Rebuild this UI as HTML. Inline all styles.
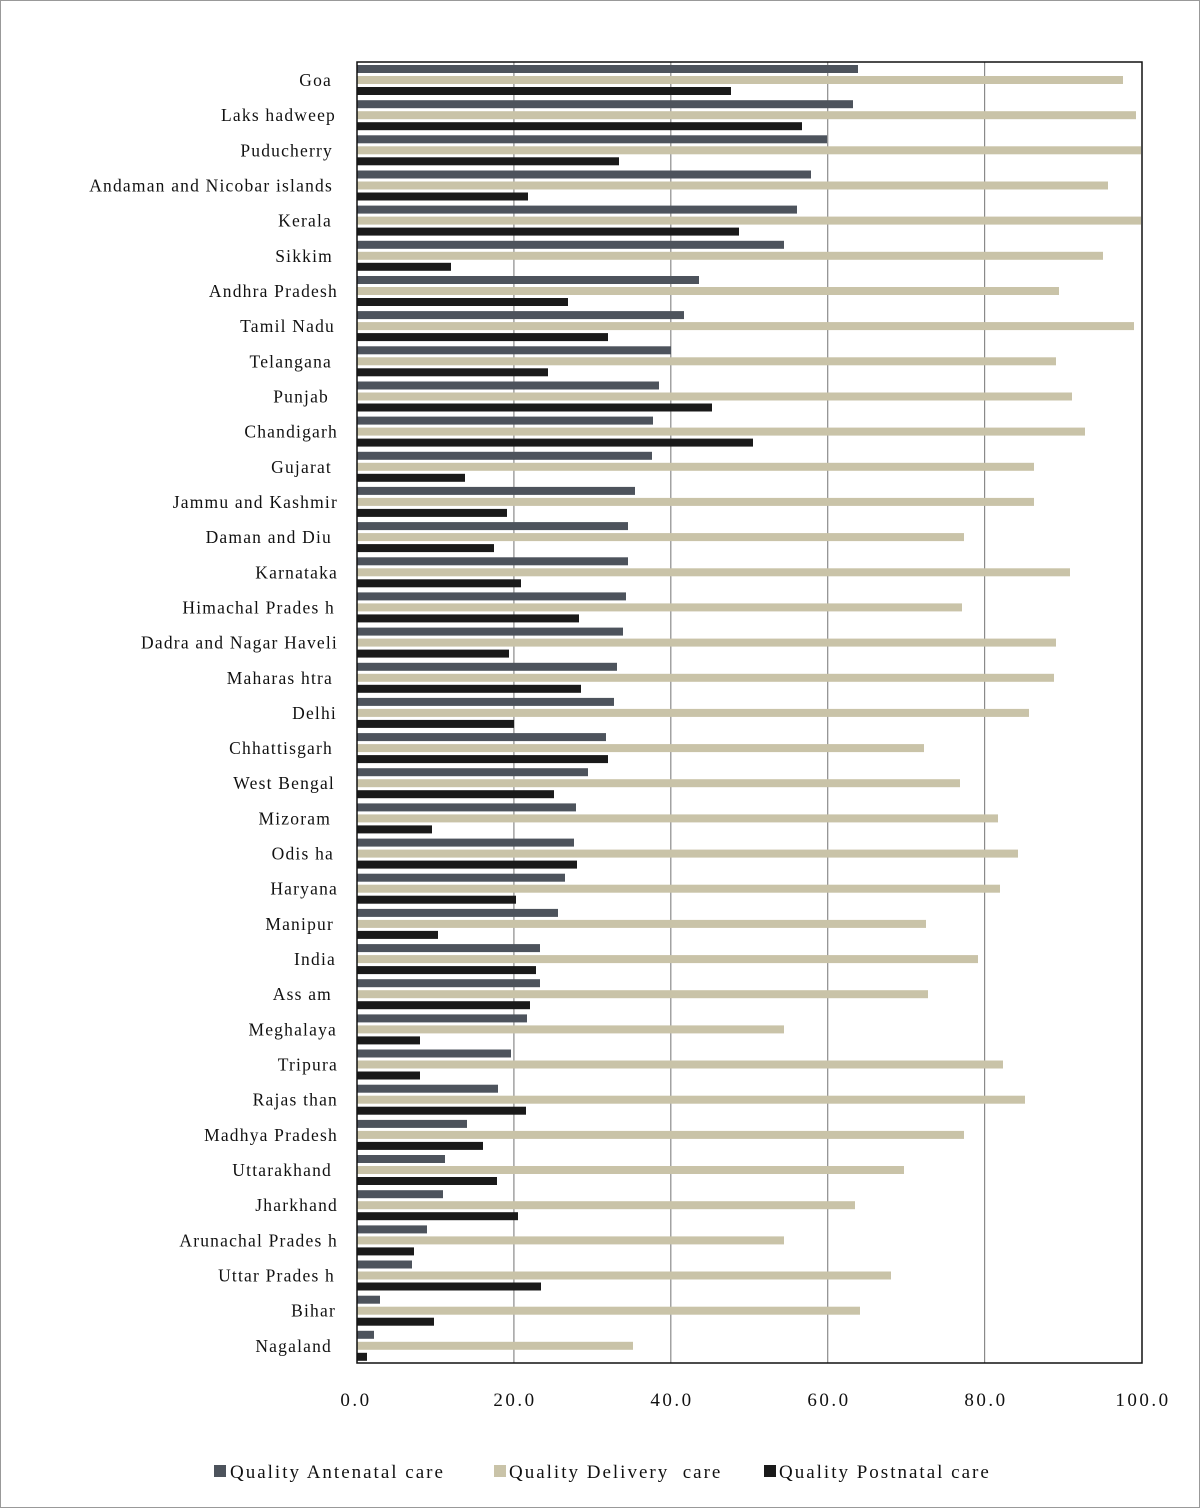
<!DOCTYPE html>
<html><head><meta charset="utf-8"><style>
body{margin:0;background:#fff}
svg{display:block;font-family:"Liberation Serif",serif}
.a{fill:#4d535c}.b{fill:#c9c3a8}.c{fill:#1a1a1a}
.l{font-size:17.5px;fill:#111;text-anchor:end;letter-spacing:1.2px}
</style></head><body>
<svg width="1200" height="1508" xmlns="http://www.w3.org/2000/svg">
<rect x="0.5" y="0.5" width="1199" height="1507" fill="#fff" stroke="#999"/>
<g stroke="#8a8a8a" stroke-width="1.2">
<line x1="513.9" y1="62" x2="513.9" y2="1363"/>
<line x1="670.8" y1="62" x2="670.8" y2="1363"/>
<line x1="827.7" y1="62" x2="827.7" y2="1363"/>
<line x1="984.6" y1="62" x2="984.6" y2="1363"/>
</g>
<g transform="translate(0,62)"><rect class="a" x="357" y="3" width="501" height="8"/><rect class="b" x="357" y="14" width="766" height="8"/><rect class="c" x="357" y="25" width="374" height="8"/><text class="l" x="332" y="24">Goa</text></g>
<g transform="translate(0,97.2)"><rect class="a" x="357" y="3" width="496" height="8"/><rect class="b" x="357" y="14" width="779" height="8"/><rect class="c" x="357" y="25" width="445" height="8"/><text class="l" x="336" y="24">Laks hadweep</text></g>
<g transform="translate(0,132.3)"><rect class="a" x="357" y="3" width="470" height="8"/><rect class="b" x="357" y="14" width="784" height="8"/><rect class="c" x="357" y="25" width="262" height="8"/><text class="l" x="333" y="24">Puducherry</text></g>
<g transform="translate(0,167.5)"><rect class="a" x="357" y="3" width="454" height="8"/><rect class="b" x="357" y="14" width="751" height="8"/><rect class="c" x="357" y="25" width="171" height="8"/><text class="l" x="333" y="24">Andaman and Nicobar islands</text></g>
<g transform="translate(0,202.6)"><rect class="a" x="357" y="3" width="440" height="8"/><rect class="b" x="357" y="14" width="784" height="8"/><rect class="c" x="357" y="25" width="382" height="8"/><text class="l" x="332" y="24">Kerala</text></g>
<g transform="translate(0,237.8)"><rect class="a" x="357" y="3" width="427" height="8"/><rect class="b" x="357" y="14" width="746" height="8"/><rect class="c" x="357" y="25" width="94" height="8"/><text class="l" x="333" y="24">Sikkim</text></g>
<g transform="translate(0,273)"><rect class="a" x="357" y="3" width="342" height="8"/><rect class="b" x="357" y="14" width="702" height="8"/><rect class="c" x="357" y="25" width="211" height="8"/><text class="l" x="338" y="24">Andhra Pradesh</text></g>
<g transform="translate(0,308.1)"><rect class="a" x="357" y="3" width="327" height="8"/><rect class="b" x="357" y="14" width="777" height="8"/><rect class="c" x="357" y="25" width="251" height="8"/><text class="l" x="335" y="24">Tamil Nadu</text></g>
<g transform="translate(0,343.3)"><rect class="a" x="357" y="3" width="314" height="8"/><rect class="b" x="357" y="14" width="699" height="8"/><rect class="c" x="357" y="25" width="191" height="8"/><text class="l" x="332" y="24">Telangana</text></g>
<g transform="translate(0,378.5)"><rect class="a" x="357" y="3" width="302" height="8"/><rect class="b" x="357" y="14" width="715" height="8"/><rect class="c" x="357" y="25" width="355" height="8"/><text class="l" x="329" y="24">Punjab</text></g>
<g transform="translate(0,413.6)"><rect class="a" x="357" y="3" width="296" height="8"/><rect class="b" x="357" y="14" width="728" height="8"/><rect class="c" x="357" y="25" width="396" height="8"/><text class="l" x="338" y="24">Chandigarh</text></g>
<g transform="translate(0,448.8)"><rect class="a" x="357" y="3" width="295" height="8"/><rect class="b" x="357" y="14" width="677" height="8"/><rect class="c" x="357" y="25" width="108" height="8"/><text class="l" x="332" y="24">Gujarat</text></g>
<g transform="translate(0,483.9)"><rect class="a" x="357" y="3" width="278" height="8"/><rect class="b" x="357" y="14" width="677" height="8"/><rect class="c" x="357" y="25" width="150" height="8"/><text class="l" x="338" y="24">Jammu and Kashmir</text></g>
<g transform="translate(0,519.1)"><rect class="a" x="357" y="3" width="271" height="8"/><rect class="b" x="357" y="14" width="607" height="8"/><rect class="c" x="357" y="25" width="137" height="8"/><text class="l" x="332" y="24">Daman and Diu</text></g>
<g transform="translate(0,554.3)"><rect class="a" x="357" y="3" width="271" height="8"/><rect class="b" x="357" y="14" width="713" height="8"/><rect class="c" x="357" y="25" width="164" height="8"/><text class="l" x="338" y="24">Karnataka</text></g>
<g transform="translate(0,589.4)"><rect class="a" x="357" y="3" width="269" height="8"/><rect class="b" x="357" y="14" width="605" height="8"/><rect class="c" x="357" y="25" width="222" height="8"/><text class="l" x="335" y="24">Himachal Prades h</text></g>
<g transform="translate(0,624.6)"><rect class="a" x="357" y="3" width="266" height="8"/><rect class="b" x="357" y="14" width="699" height="8"/><rect class="c" x="357" y="25" width="152" height="8"/><text class="l" x="338" y="24">Dadra and Nagar Haveli</text></g>
<g transform="translate(0,659.8)"><rect class="a" x="357" y="3" width="260" height="8"/><rect class="b" x="357" y="14" width="697" height="8"/><rect class="c" x="357" y="25" width="224" height="8"/><text class="l" x="333" y="24">Maharas htra</text></g>
<g transform="translate(0,694.9)"><rect class="a" x="357" y="3" width="257" height="8"/><rect class="b" x="357" y="14" width="672" height="8"/><rect class="c" x="357" y="25" width="157" height="8"/><text class="l" x="337" y="24">Delhi</text></g>
<g transform="translate(0,730.1)"><rect class="a" x="357" y="3" width="249" height="8"/><rect class="b" x="357" y="14" width="567" height="8"/><rect class="c" x="357" y="25" width="251" height="8"/><text class="l" x="333" y="24">Chhattisgarh</text></g>
<g transform="translate(0,765.2)"><rect class="a" x="357" y="3" width="231" height="8"/><rect class="b" x="357" y="14" width="603" height="8"/><rect class="c" x="357" y="25" width="197" height="8"/><text class="l" x="335" y="24">West Bengal</text></g>
<g transform="translate(0,800.4)"><rect class="a" x="357" y="3" width="219" height="8"/><rect class="b" x="357" y="14" width="641" height="8"/><rect class="c" x="357" y="25" width="75" height="8"/><text class="l" x="331" y="24">Mizoram</text></g>
<g transform="translate(0,835.6)"><rect class="a" x="357" y="3" width="217" height="8"/><rect class="b" x="357" y="14" width="661" height="8"/><rect class="c" x="357" y="25" width="220" height="8"/><text class="l" x="334" y="24">Odis ha</text></g>
<g transform="translate(0,870.7)"><rect class="a" x="357" y="3" width="208" height="8"/><rect class="b" x="357" y="14" width="643" height="8"/><rect class="c" x="357" y="25" width="159" height="8"/><text class="l" x="338" y="24">Haryana</text></g>
<g transform="translate(0,905.9)"><rect class="a" x="357" y="3" width="201" height="8"/><rect class="b" x="357" y="14" width="569" height="8"/><rect class="c" x="357" y="25" width="81" height="8"/><text class="l" x="334" y="24">Manipur</text></g>
<g transform="translate(0,941.1)"><rect class="a" x="357" y="3" width="183" height="8"/><rect class="b" x="357" y="14" width="621" height="8"/><rect class="c" x="357" y="25" width="179" height="8"/><text class="l" x="336" y="24">India</text></g>
<g transform="translate(0,976.2)"><rect class="a" x="357" y="3" width="183" height="8"/><rect class="b" x="357" y="14" width="571" height="8"/><rect class="c" x="357" y="25" width="173" height="8"/><text class="l" x="332" y="24">Ass am</text></g>
<g transform="translate(0,1011.4)"><rect class="a" x="357" y="3" width="170" height="8"/><rect class="b" x="357" y="14" width="427" height="8"/><rect class="c" x="357" y="25" width="63" height="8"/><text class="l" x="337" y="24">Meghalaya</text></g>
<g transform="translate(0,1046.5)"><rect class="a" x="357" y="3" width="154" height="8"/><rect class="b" x="357" y="14" width="646" height="8"/><rect class="c" x="357" y="25" width="63" height="8"/><text class="l" x="338" y="24">Tripura</text></g>
<g transform="translate(0,1081.7)"><rect class="a" x="357" y="3" width="141" height="8"/><rect class="b" x="357" y="14" width="668" height="8"/><rect class="c" x="357" y="25" width="169" height="8"/><text class="l" x="338" y="24">Rajas than</text></g>
<g transform="translate(0,1116.9)"><rect class="a" x="357" y="3" width="110" height="8"/><rect class="b" x="357" y="14" width="607" height="8"/><rect class="c" x="357" y="25" width="126" height="8"/><text class="l" x="338" y="24">Madhya Pradesh</text></g>
<g transform="translate(0,1152)"><rect class="a" x="357" y="3" width="88" height="8"/><rect class="b" x="357" y="14" width="547" height="8"/><rect class="c" x="357" y="25" width="140" height="8"/><text class="l" x="332" y="24">Uttarakhand</text></g>
<g transform="translate(0,1187.2)"><rect class="a" x="357" y="3" width="86" height="8"/><rect class="b" x="357" y="14" width="498" height="8"/><rect class="c" x="357" y="25" width="161" height="8"/><text class="l" x="338" y="24">Jharkhand</text></g>
<g transform="translate(0,1222.4)"><rect class="a" x="357" y="3" width="70" height="8"/><rect class="b" x="357" y="14" width="427" height="8"/><rect class="c" x="357" y="25" width="57" height="8"/><text class="l" x="338" y="24">Arunachal Prades h</text></g>
<g transform="translate(0,1257.5)"><rect class="a" x="357" y="3" width="55" height="8"/><rect class="b" x="357" y="14" width="534" height="8"/><rect class="c" x="357" y="25" width="184" height="8"/><text class="l" x="335" y="24">Uttar Prades h</text></g>
<g transform="translate(0,1292.7)"><rect class="a" x="357" y="3" width="23" height="8"/><rect class="b" x="357" y="14" width="503" height="8"/><rect class="c" x="357" y="25" width="77" height="8"/><text class="l" x="336" y="24">Bihar</text></g>
<g transform="translate(0,1327.8)"><rect class="a" x="357" y="3" width="17" height="8"/><rect class="b" x="357" y="14" width="276" height="8"/><rect class="c" x="357" y="25" width="10" height="8"/><text class="l" x="332" y="24">Nagaland</text></g>
<rect x="357" y="62" width="785" height="1301" fill="none" stroke="#111" stroke-width="1.5"/>
<g font-size="19" fill="#111" text-anchor="middle" letter-spacing="2.5">
<text x="356" y="1406">0.0</text>
<text x="515" y="1406">20.0</text>
<text x="672" y="1406">40.0</text>
<text x="829" y="1406">60.0</text>
<text x="986" y="1406">80.0</text>
<text x="1143" y="1406">100.0</text>
</g>
<g font-size="19" fill="#111" letter-spacing="2">
<rect class="a" x="214" y="1465" width="12" height="12"/><text x="230" y="1478">Quality Antenatal care</text>
<rect class="b" x="494" y="1465" width="12" height="12"/><text x="509" y="1478" xml:space="preserve">Quality Delivery  care</text>
<rect class="c" x="764" y="1465" width="12" height="12"/><text x="779" y="1478">Quality Postnatal care</text>
</g>
</svg>
</body></html>
